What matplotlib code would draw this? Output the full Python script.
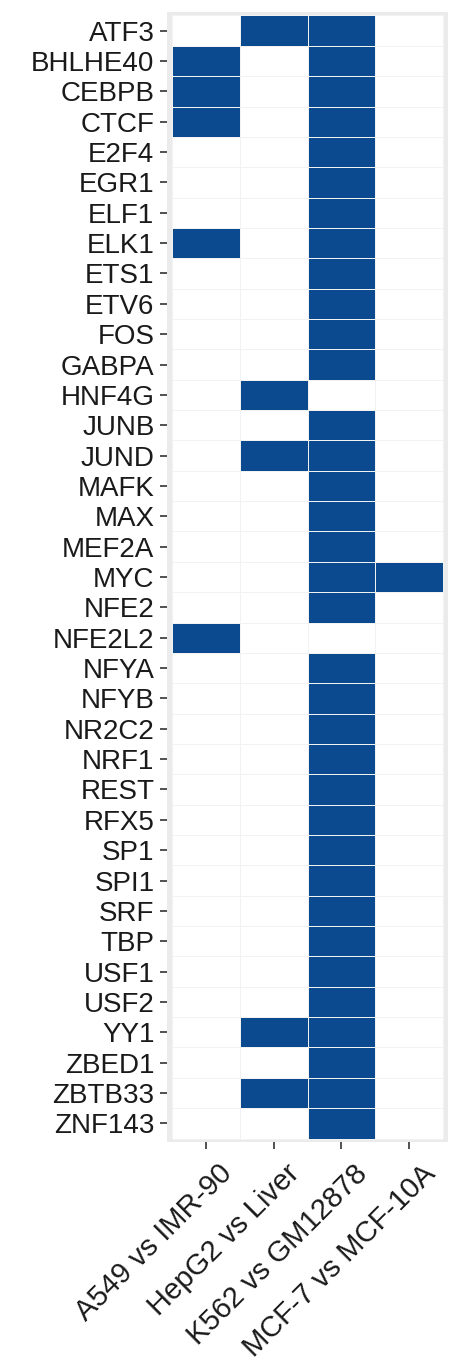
import numpy as np
import matplotlib
matplotlib.use('Agg')
import matplotlib.pyplot as plt
from matplotlib.colors import ListedColormap
from matplotlib.transforms import ScaledTranslation

# transcription factors (rows, top to bottom)
tfs = ['ATF3', 'BHLHE40', 'CEBPB', 'CTCF', 'E2F4', 'EGR1', 'ELF1', 'ELK1',
       'ETS1', 'ETV6', 'FOS', 'GABPA', 'HNF4G', 'JUNB', 'JUND', 'MAFK',
       'MAX', 'MEF2A', 'MYC', 'NFE2', 'NFE2L2', 'NFYA', 'NFYB', 'NR2C2',
       'NRF1', 'REST', 'RFX5', 'SP1', 'SPI1', 'SRF', 'TBP', 'USF1', 'USF2',
       'YY1', 'ZBED1', 'ZBTB33', 'ZNF143']

# comparisons (columns)
comparisons = ['A549 vs IMR-90', 'HepG2 vs Liver', 'K562 vs GM12878', 'MCF-7 vs MCF-10A']

# TFs present in each comparison
a549_hits = ['BHLHE40', 'CEBPB', 'CTCF', 'ELK1', 'NFE2L2']
hepg2_hits = ['ATF3', 'HNF4G', 'JUND', 'YY1', 'ZBTB33']
k562_hits = [t for t in tfs if t not in ('HNF4G', 'NFE2L2')]
mcf7_hits = ['MYC']

hits = [a549_hits, hepg2_hits, k562_hits, mcf7_hits]
mat = np.array([[1 if tf in h else 0 for h in hits] for tf in tfs])

fig = plt.figure(figsize=(4.62, 13.61), dpi=100)
W, H = 462, 1361
ax = fig.add_axes([167 / W, 1 - 1142 / H, (448 - 167) / W, (1142 - 12) / H])
ax.set_facecolor('#ebebeb')

cmap = ListedColormap(['white', '#0c4a8f'])
x_edges = np.arange(len(comparisons) + 1) - 0.5
y_edges = np.arange(len(tfs) + 1) - 0.5
ax.pcolormesh(x_edges, y_edges, mat, cmap=cmap, vmin=0, vmax=1,
              edgecolors='#f2f2f2', linewidth=0.5)

ax.set_xlim(-0.575, len(comparisons) - 0.425)
ax.set_ylim(len(tfs) - 0.385, -0.615)

ax.set_yticks(range(len(tfs)))
ax.set_yticklabels(tfs, fontsize=20, color='#1a1a1a', family='Liberation Sans')
ax.set_xticks(range(len(comparisons)))
ax.set_xticklabels(comparisons, fontsize=21, color='#1a1a1a', family='Liberation Sans',
                   rotation=45, ha='right', rotation_mode='anchor')
ax.tick_params(axis='both', length=5, width=1.2, color='#333333', pad=4)
for lbl in ax.get_xticklabels():
    lbl.set_transform(lbl.get_transform() + ScaledTranslation(0.12, -0.05, fig.dpi_scale_trans))

for s in ax.spines.values():
    s.set_visible(False)

fig.savefig('out.png', dpi=100)
